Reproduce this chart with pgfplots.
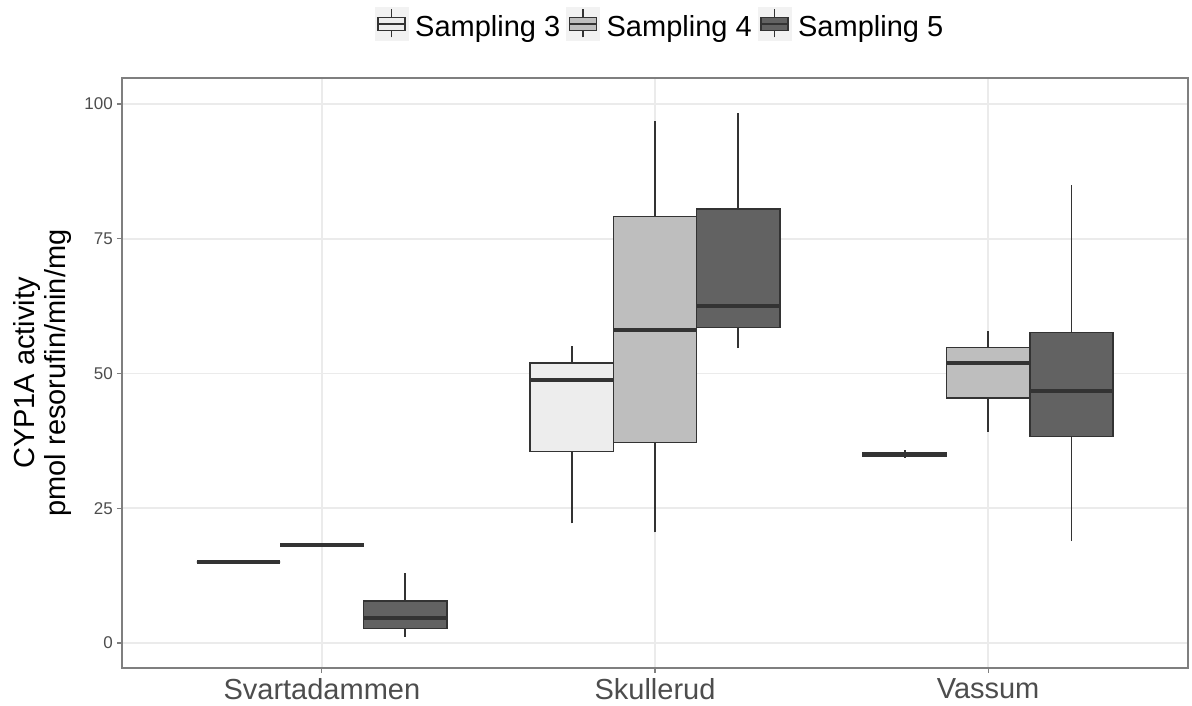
\documentclass[border=0pt]{standalone}
\usepackage{fontspec}
\setmainfont{Liberation Sans}
\usepackage{pgfplots}
\pgfplotsset{compat=1.18}
\definecolor{sthree}{HTML}{EDEDED}
\definecolor{sfour}{HTML}{BEBEBE}
\definecolor{sfive}{HTML}{626262}
\definecolor{edge}{HTML}{333333}
\definecolor{gridc}{HTML}{EBEBEB}
\definecolor{ticktext}{HTML}{4D4D4D}
\definecolor{legbg}{HTML}{F2F2F2}
\definecolor{border}{HTML}{7F7F7F}
\newcommand{\legkey}[1]{%
  \fill[legbg] (0pt,-14.2pt) rectangle (33pt,18.8pt);
  \draw[edge, line width=1.4pt] (16.5pt,-11pt) -- (16.5pt,-4.1pt) (16.5pt,8.9pt) -- (16.5pt,17pt);
  \draw[edge, line width=1.4pt, fill=#1] (3pt,-4.1pt) rectangle (30pt,8.9pt);
  \draw[edge, line width=2.4pt] (3pt,2.3pt) -- (30pt,2.3pt);
}
% box: left, centre, right, lower whisker, lower quartile, median, upper quartile, upper whisker, fill
\newcommand{\bxp}[9]{%
  \addplot[draw=edge, line width=1.7pt, forget plot] coordinates {(#2,#4) (#2,#5)};
  \addplot[draw=edge, line width=1.7pt, forget plot] coordinates {(#2,#7) (#2,#8)};
  \addplot[draw=edge, fill=#9, line width=1.6pt, forget plot] coordinates {(#1,#5) (#3,#5) (#3,#7) (#1,#7)} -- cycle;
  \addplot[draw=edge, line width=3.6pt, forget plot] coordinates {(#1,#6) (#3,#6)};
}
\begin{document}
\begin{tikzpicture}
\useasboundingbox (0pt,0pt) rectangle (1192pt,706pt);
\begin{axis}[
  at={(122pt,38pt)}, anchor=south west,
  scale only axis, width=1066pt, height=590pt,
  xmin=40, xmax=360, ymin=-4.64, ymax=104.82,
  xtick={100,200,300}, xticklabels={Svartadammen,Skullerud,Vassum},
  ytick={0,25,50,75,100},
  xtick pos=bottom, ytick pos=left,
  tick align=outside, major tick length=5pt,
  tick style={border, line width=1.2pt},
  axis line style={border, line width=1.2pt},
  grid=major, major grid style={gridc, line width=1.6pt},
  /pgf/number format/assume math mode=true,
  xticklabel style={font=\fontsize{29}{32}\selectfont, text=ticktext, inner sep=0pt, yshift=-5pt},
  yticklabel style={font=\fontsize{17}{20}\selectfont, text=ticktext, inner sep=0pt, xshift=-4pt},
  ylabel={CYP1A activity\\pmol resorufin/min/mg},
  ylabel style={at={(axis description cs:-0.1023,0.5)}, anchor=north, align=center,
    font=\fontsize{29}{31}\selectfont, inner sep=0pt},
  legend columns=3,
  legend style={at={(0.5,1)}, anchor=south, xshift=4pt, yshift=37pt,
    draw=none, fill=none, inner sep=0pt, font=\fontsize{29}{32}\selectfont,
    /tikz/every odd column/.style={column sep=7pt},
    /tikz/every even column/.style={column sep=6pt},
    nodes={inner sep=0pt}},
]
\addlegendimage{legend image code/.code={\legkey{sthree}}}
\addlegendentry{Sampling 3}
\addlegendimage{legend image code/.code={\legkey{sfour}}}
\addlegendentry{Sampling 4}
\addlegendimage{legend image code/.code={\legkey{sfive}}}
\addlegendentry{Sampling 5}
% Svartadammen
\bxp{62.5}{75}{87.5}{15.0}{15.0}{15.0}{15.0}{15.0}{sthree}
\bxp{87.5}{100}{112.5}{18.2}{18.2}{18.2}{18.2}{18.2}{sfour}
\bxp{112.5}{125}{137.5}{1.2}{2.7}{4.6}{7.8}{12.9}{sfive}
% Skullerud
\bxp{162.5}{175}{187.5}{22.2}{35.5}{48.8}{51.9}{55.1}{sthree}
\bxp{187.5}{200}{212.5}{20.5}{37.2}{58.1}{79.1}{96.9}{sfour}
\bxp{212.5}{225}{237.5}{54.7}{58.5}{62.5}{80.5}{98.3}{sfive}
% Vassum
\bxp{262.5}{275}{287.5}{34.4}{34.6}{34.9}{35.3}{35.8}{sthree}
\bxp{287.5}{300}{312.5}{39.2}{45.4}{51.9}{54.8}{57.9}{sfour}
\bxp{312.5}{325}{337.5}{18.9}{38.3}{46.8}{57.6}{85.0}{sfive}
\end{axis}
\end{tikzpicture}
\end{document}
